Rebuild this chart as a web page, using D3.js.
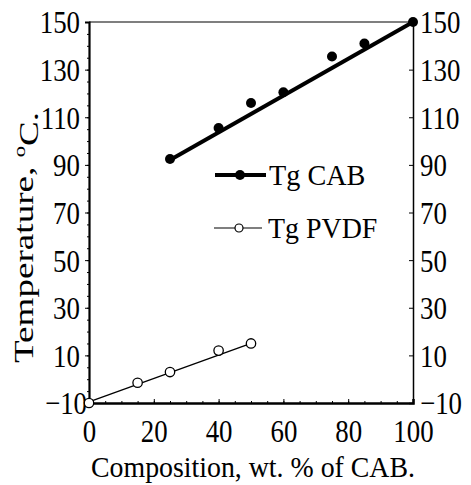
<!DOCTYPE html>
<html>
<head>
<meta charset="utf-8">
<script src="https://cdn.jsdelivr.net/npm/d3@7"></script>
<style>
body { margin: 0; background: #fff; }
text { font-family: "Liberation Serif", "DejaVu Serif", serif; fill: #000; }
</style>
</head>
<body>
<svg id="chart" width="471" height="485"></svg>
<script>
// data
var cabX = [25, 40, 50, 60, 75, 85, 100];
var cabY = [92.5, 105.5, 116, 120.5, 135.5, 141, 150];
var cabFitX = [25, 100];
var cabFitY = [92, 150];

var pvdfX = [0, 15, 25, 40, 50];
var pvdfY = [-10, -1.5, 3, 12, 15];
var pvdfFitX = [0, 50];
var pvdfFitY = [-9.5, 15];

var xTicks = [0, 20, 40, 60, 80, 100];
var yTicks = [-10, 10, 30, 50, 70, 90, 110, 130, 150];

var svg = d3.select('#chart');
var pLeft = 89, pRight = 413, pTop = 22, pBottom = 403;

var x = d3.scaleLinear().domain([0, 100]).range([pLeft, pRight]);
var y = d3.scaleLinear().domain([-10, 150]).range([pBottom, pTop]);

// squeeze text horizontally like in the scan
function squeeze(sel, k) {
    sel.each(function() {
        var L = this.getComputedTextLength();
        d3.select(this).attr('textLength', L * k).attr('lengthAdjust', 'spacingAndGlyphs');
    });
}

// frame
svg.append('line').attr('x1', pLeft).attr('x2', pRight).attr('y1', pTop).attr('y2', pTop)
    .attr('stroke', '#000').attr('stroke-width', 1.2);

// left axis
var gl = svg.append('g').attr('transform', 'translate(' + pLeft + ',0)')
    .call(d3.axisLeft(y).tickValues(yTicks).tickSize(4).tickPadding(5).tickFormat(d3.format('d')));
gl.select('.domain').attr('stroke-width', 2.2);
gl.selectAll('text').style('font-size', '32px').attr('dy', '0.34em');
squeeze(gl.selectAll('text'), 0.84);
gl.selectAll('.tick').filter(function(d) { return d == -10; }).select('text').attr('x', -2);
var glm = svg.append('g').attr('transform', 'translate(' + pLeft + ',0)')
    .call(d3.axisLeft(y).tickValues(d3.range(-10, 151, 5)).tickSize(2).tickFormat(''));
glm.select('.domain').remove();

// right axis
var gr = svg.append('g').attr('transform', 'translate(' + pRight + ',0)')
    .call(d3.axisRight(y).tickValues(yTicks).tickSize(-4).tickPadding(7).tickFormat(d3.format('d')));
gr.select('.domain').attr('stroke-width', 1.5);
gr.selectAll('text').style('font-size', '32px').attr('dy', '0.34em');
squeeze(gr.selectAll('text'), 0.84);

// bottom axis
var gb = svg.append('g').attr('transform', 'translate(0,' + pBottom + ')')
    .call(d3.axisBottom(x).tickValues(xTicks).tickSize(-4).tickPadding(16).tickFormat(d3.format('d')));
gb.select('.domain').attr('stroke-width', 2.5);
gb.selectAll('text').style('font-size', '32px').attr('dy', '0.71em');
squeeze(gb.selectAll('text'), 0.84);
var gbm = svg.append('g').attr('transform', 'translate(0,' + pBottom + ')')
    .call(d3.axisBottom(x).tickValues(d3.range(0, 101, 5)).tickSize(-2).tickFormat(''));
gbm.select('.domain').remove();

var line = d3.line().x(function(d) { return x(d[0]); }).y(function(d) { return y(d[1]); });

// CAB
svg.append('path').datum(d3.zip(cabFitX, cabFitY)).attr('d', line)
    .attr('fill', 'none').attr('stroke', '#000').attr('stroke-width', 4);
svg.selectAll('.cab').data(d3.zip(cabX, cabY)).enter().append('circle')
    .attr('class', 'cab')
    .attr('cx', function(d) { return x(d[0]); })
    .attr('cy', function(d) { return y(d[1]); })
    .attr('r', 5).attr('fill', '#000');

// PVDF
svg.append('path').datum(d3.zip(pvdfFitX, pvdfFitY)).attr('d', line)
    .attr('fill', 'none').attr('stroke', '#000').attr('stroke-width', 1.3);
svg.selectAll('.pvdf').data(d3.zip(pvdfX, pvdfY)).enter().append('circle')
    .attr('class', 'pvdf')
    .attr('cx', function(d) { return x(d[0]); })
    .attr('cy', function(d) { return y(d[1]); })
    .attr('r', 4.7).attr('fill', '#fff').attr('stroke', '#000').attr('stroke-width', 1.3);

// legend
var lg = svg.append('g');
lg.append('line').attr('x1', 215).attr('x2', 266).attr('y1', 175).attr('y2', 175)
    .attr('stroke', '#000').attr('stroke-width', 4);
lg.append('circle').attr('cx', 240).attr('cy', 175).attr('r', 5).attr('fill', '#000');
var t1 = lg.append('text').attr('x', 269).attr('y', 185).style('font-size', '30px').text('Tg CAB');
squeeze(t1, 0.94);

lg.append('line').attr('x1', 214).attr('x2', 262).attr('y1', 228).attr('y2', 228)
    .attr('stroke', '#000').attr('stroke-width', 1.2);
lg.append('circle').attr('cx', 239).attr('cy', 228).attr('r', 4).attr('fill', '#fff')
    .attr('stroke', '#000').attr('stroke-width', 1.2);
var t2 = lg.append('text').attr('x', 268).attr('y', 238).style('font-size', '30px').text('Tg PVDF');
squeeze(t2, 0.93);

// axis titles
var xt = svg.append('text').attr('x', 91).attr('y', 477).style('font-size', '30px')
    .text('Composition, wt. % of CAB.');
xt.attr('textLength', 324).attr('lengthAdjust', 'spacingAndGlyphs');

var yt = svg.append('text').attr('transform', 'translate(33,363) rotate(-90)').style('font-size', '28px');
yt.append('tspan').text('Temperature, ');
yt.append('tspan').attr('dy', '-0.45em').style('font-size', '17px').text('o');
yt.append('tspan').attr('dy', '0.45em').text('C.');
yt.attr('textLength', 251).attr('lengthAdjust', 'spacingAndGlyphs');
</script>
</body>
</html>
